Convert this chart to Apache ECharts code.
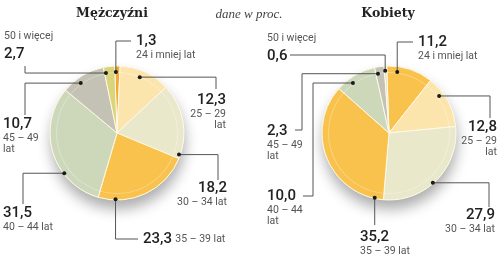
<!DOCTYPE html>
<html><head><meta charset="utf-8">
<script src="https://cdn.jsdelivr.net/npm/echarts@6/dist/echarts.min.js"></script>
<style>html,body{margin:0;padding:0;background:#fff}#c{width:500px;height:271px}</style>
</head><body><div id="c"></div>
<script>
// ---- data ----
const categories = ['24 i mniej lat','25 – 29 lat','30 – 34 lat','35 – 39 lat','40 – 44 lat','45 – 49 lat','50 i więcej'];
const menValues   = [1.3, 12.3, 18.2, 23.3, 31.5, 10.7, 2.7];
const womenValues = [11.2, 12.8, 27.9, 35.2, 10.0, 2.3, 0.6];
const titles = ['Mężczyźni', 'Kobiety'];
const subtitle = 'dane w proc.';

// ---- styles ----
const menColors   = ['#F2AA32','#FCE5AC','#E9E8CB','#F9C24D','#CDD8BB','#C3C2B4','#DAD47A'];
const womenColors = ['#F9C24D','#FCE5AC','#E9E8CB','#F9C24D','#CDD8BB','#C3C2B4','#E4E1BE'];
const pieCenters = [[117,133],[389,133]];
const pieRadius = 67;

// label layout: text block x/y/align + formatter shape + leader route
// at = position of the dot along the slice (0..1), rf = radius fraction of the dot
const menLabels = [
  {x:136,y:32, align:'left', shape:'vc', lines:['24 i mniej lat'], route:'vh', end:[131,41], at:0.2, rf:0.91},
  {x:226,y:91, align:'right',shape:'vc', lines:['25 – 29','lat'], route:'hv', end:[216,89], at:0.44, rf:0.9},
  {x:227,y:179,align:'right',shape:'vc', lines:['30 – 34 lat'], route:'hv', end:[218,180], at:0.95, rf:0.98},
  {x:143,y:230,align:'left', shape:'inline', lines:['35 – 39 lat'], route:'vh', end:[138,239], at:0.82, rf:0.99},
  {x:3,  y:204,align:'left', shape:'vc', lines:['40 – 44 lat'], route:'hv', end:[23,204], at:0.32, rf:0.99},
  {x:3,  y:115,align:'left', shape:'vc', lines:['45 – 49','lat'], route:'hv', end:[25,115], at:0.37, rf:0.92},
  {x:4,  y:27, align:'left', shape:'cv', lines:['50 i więcej'], route:'hv', end:[25,66], at:0.13, rf:0.91}
];
const womenLabels = [
  {x:418,y:33, align:'left', shape:'vc', lines:['24 i mniej lat'], route:'vh', end:[413,42], at:0.24, rf:0.92},
  {x:497,y:118,align:'right',shape:'vc', lines:['25 – 29','lat'], route:'hv', end:[490,118], at:0.33, rf:0.93},
  {x:495,y:206,align:'right',shape:'vc', lines:['30 – 34 lat'], route:'hv', end:[489,207], at:0.54, rf:0.99},
  {x:360,y:228,align:'left', shape:'vc', lines:['35 – 39 lat'], route:'vh', end:[null,225], at:0.06, rf:0.99},
  {x:267,y:187,align:'left', shape:'vc', lines:['40 – 44','lat'], route:'hvh', mid:313, end:[303,196], at:0.35, rf:0.92},
  {x:267,y:122,align:'left', shape:'vc', lines:['45 – 49','lat'], route:'hvh', mid:302, end:[295,130], at:0.23, rf:0.9},
  {x:267,y:29, align:'left', shape:'cv', lines:['50 i więcej'], route:'vh', end:[290,55], at:0.3, rf:0.93}
];

const fmtNum = v => v.toFixed(1).replace('.', ',');
function fmt(lab, v){
  const num = '{v|' + fmtNum(v) + '}';
  if (lab.shape === 'inline') return num + ' {c|' + lab.lines[0] + '}';
  if (lab.shape === 'cv') return '{c2|' + lab.lines[0] + '}\n' + num;
  return num + '\n' + lab.lines.map(l => '{c|' + l + '}').join('\n');
}
const rich = {
  v:{fontFamily:'Roboto',fontWeight:500,fontSize:15,lineHeight:18,color:'#222'},
  c:{fontFamily:'Roboto',fontSize:10.5,lineHeight:11,color:'#555'},
  c2:{fontFamily:'Roboto',fontSize:10.5,lineHeight:18,color:'#555'}
};

function mkSeries(values, colors, labels, center){
  return [
    { type:'pie', silent:true, center:center, radius:pieRadius, z:1,
      label:{show:false}, labelLine:{show:false},
      itemStyle:{color:'#f4f1e0', shadowBlur:14, shadowOffsetY:9, shadowOffsetX:1, shadowColor:'rgba(0,0,0,0.33)'},
      data:[{value:1}] },
    { type:'pie', center:center, radius:pieRadius, startAngle:92, clockwise:true, z:2,
      avoidLabelOverlap:false, silent:true,
      itemStyle:{borderColor:'#FFF9E8', borderWidth:1},
      label:{show:true, position:'outside', rich:rich,
        formatter:p => fmt(labels[p.dataIndex], p.value)},
      labelLine:{show:false},
      labelLayout:p => { const l = labels[p.dataIndex]; return {x:l.x, y:l.y, align:l.align, verticalAlign:'top'}; },
      data: values.map((v,i)=>({name:categories[i], value:v, itemStyle:{color:colors[i]}})) },
    { type:'pie', silent:true, center:center, radius:[pieRadius*0.895, pieRadius*0.91], z:3,
      label:{show:false}, labelLine:{show:false},
      itemStyle:{color:'rgba(255,255,255,0.3)'}, data:[{value:1}] }
  ];
}

const chart = echarts.init(document.getElementById('c'), null, {renderer:'canvas'});
const option = {
  animation:false,
  title:[
    {text:titles[0], left:107, top:2, textAlign:'center', textStyle:{fontFamily:'DejaVu Serif',fontWeight:'bold',fontSize:12.5,color:'#222'}},
    {text:subtitle, left:244, top:3, textAlign:'center', textStyle:{fontFamily:'Liberation Serif',fontStyle:'italic',fontWeight:'normal',fontSize:13,color:'#444'}},
    {text:titles[1], left:383, top:2, textAlign:'center', textStyle:{fontFamily:'DejaVu Serif',fontWeight:'bold',fontSize:12.5,color:'#222'}}
  ],
  series:[].concat(mkSeries(menValues, menColors, menLabels, pieCenters[0]),
                   mkSeries(womenValues, womenColors, womenLabels, pieCenters[1]))
};
chart.setOption(option);

// leader lines + dots from the library's pie layout
const graphics = [];
[[1, menLabels],[4, womenLabels]].forEach(([si, labels]) => {
  const data = chart.getModel().getSeriesByIndex(si).getData();
  labels.forEach((lab, i) => {
    const L = data.getItemLayout(i);
    const a = L.startAngle + (L.endAngle - L.startAngle) * lab.at;
    const px = L.cx + L.r * lab.rf * Math.cos(a);
    const py = L.cy + L.r * lab.rf * Math.sin(a);
    const ex = lab.end[0] == null ? px : lab.end[0];
    const ey = lab.end[1];
    let pts;
    if (lab.route === 'hv') pts = [[px,py],[ex,py],[ex,ey]];
    else if (lab.route === 'vh') pts = [[px,py],[px,ey],[ex,ey]];
    else pts = [[px,py],[lab.mid,py],[lab.mid,ey],[ex,ey]];
    graphics.push({type:'polyline', z:10, silent:true, shape:{points:pts}, style:{stroke:'#555', lineWidth:1, fill:null}});
    graphics.push({type:'circle', z:11, silent:true, shape:{cx:px, cy:py, r:2}, style:{fill:'#1a1a1a'}});
  });
});
chart.setOption({graphic:graphics});
</script></body></html>
